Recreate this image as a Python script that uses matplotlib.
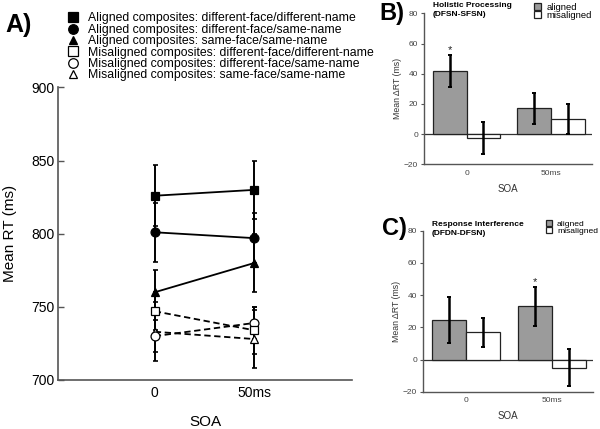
import matplotlib
matplotlib.use("Agg")
import matplotlib.pyplot as plt
from matplotlib.lines import Line2D

plt.rcParams['font.family'] = ['Liberation Sans', 'DejaVu Sans']

# ---------------- data ----------------
soa_labels = ['0', '50ms']

a_labels = ['Aligned composites: different-face/different-name',
            'Aligned composites: different-face/same-name',
            'Aligned composites: same-face/same-name',
            'Misaligned composites: different-face/different-name',
            'Misaligned composites: different-face/same-name',
            'Misaligned composites: same-face/same-name']
aligned_dfdn = [826, 830]
aligned_dfdn_err = [21, 20]
aligned_dfsn = [801, 797]
aligned_dfsn_err = [20, 17]
aligned_sfsn = [760, 780]
aligned_sfsn_err = [15, 20]
mis_dfdn = [747, 734]
mis_dfdn_err = [13, 16]
mis_dfsn = [730, 739]
mis_dfsn_err = [11, 11]
mis_sfsn = [733, 728]
mis_sfsn_err = [20, 20]

b_aligned = [42, 17]
b_aligned_err = [10.5, 10.5]
b_mis = [-2.5, 10]
b_mis_err = [10.5, 10]

c_aligned = [24.5, 33]
c_aligned_err = [14.5, 12]
c_mis = [17, -5]
c_mis_err = [9, 11.5]

b_sig = [True, False]
c_sig = [False, True]

# ---------------- figure ----------------
fig = plt.figure(figsize=(6, 4.29), dpi=100)
W, H = 600, 429

def fx(px):
    return px / W

def fy(py):
    return 1 - py / H

# ---------- panel A ----------
axA = fig.add_axes([58.3 / W, (H - 380) / H, 293.4 / W, 292.5 / H])
xs = list(range(len(soa_labels)))

dash = (0, (3.5, 2))
series = [
    (aligned_dfdn, aligned_dfdn_err, 's', 'black', '-', 6.2),
    (aligned_dfsn, aligned_dfsn_err, 'o', 'black', '-', 6.4),
    (aligned_sfsn, aligned_sfsn_err, '^', 'black', '-', 5.6),
    (mis_dfdn, mis_dfdn_err, 's', 'white', dash, 6.2),
    (mis_dfsn, mis_dfsn_err, 'o', 'white', dash, 6.4),
    (mis_sfsn, mis_sfsn_err, '^', 'white', dash, 5.6),
]
for vals, errs, mk, fc, ls, ms in series:
    axA.errorbar(xs, vals, yerr=errs, fmt='none', ecolor='black',
                 elinewidth=1.4, capsize=1.8, capthick=1.2, zorder=2)
for vals, errs, mk, fc, ls, ms in series:
    axA.plot(xs, vals, linestyle=ls, color='black', linewidth=1.3, zorder=3)
for vals, errs, mk, fc, ls, ms in reversed(series):
    axA.plot(xs, vals, linestyle='none', marker=mk, markersize=ms,
             markerfacecolor=fc, markeredgecolor='black',
             markeredgewidth=0.9, zorder=4)

axA.set_xlim(-0.97, 1.98)
axA.set_ylim(700, 900)
axA.set_yticks([700, 750, 800, 850, 900])
axA.set_xticks(xs)
axA.set_xticklabels(soa_labels)
axA.tick_params(axis='y', direction='in', length=4, width=1, color='#555555',
                labelsize=10, pad=3)
axA.tick_params(axis='x', length=0, labelsize=10, pad=4)
for s in ['top', 'right']:
    axA.spines[s].set_visible(False)
for s in ['left', 'bottom']:
    axA.spines[s].set_color('#555555')
    axA.spines[s].set_linewidth(1.2)
axA.set_ylabel('Mean RT (ms)', fontsize=11, labelpad=10)
axA.set_xlabel('SOA', fontsize=11, labelpad=11)

handles = []
for vals, errs, mk, fc, ls, ms in series:
    handles.append(Line2D([], [], linestyle='none', marker=mk,
                          markersize=ms + 0.5 if mk != '^' else ms,
                          markerfacecolor=fc, markeredgecolor='black',
                          markeredgewidth=0.9))
fig.legend(handles, a_labels, loc='upper left',
           bbox_to_anchor=(fx(66.5), fy(12.5)), frameon=False,
           fontsize=8.8, handlelength=1.0, handletextpad=0.75,
           labelspacing=-0.05, borderpad=0, borderaxespad=0)

fig.text(fx(5), fy(32), 'A)', fontsize=18, fontweight='bold', va='baseline')

# ---------- panels B and C ----------
def bar_panel(rect, aligned, aligned_err, mis, mis_err, sig, title,
              leg_anchor, leg_fs, letter, letter_xy):
    ax = fig.add_axes(rect)
    w = 0.4
    xa = [x - w / 2 for x in xs]
    xm = [x + w / 2 for x in xs]
    ba = ax.bar(xa, aligned, width=w, color='#9b9b9b', edgecolor='#222222',
                linewidth=0.9, zorder=2, label='aligned')
    bm = ax.bar(xm, mis, width=w, color='white', edgecolor='#222222',
                linewidth=0.9, zorder=2, label='misaligned')
    ax.errorbar(xa, aligned, yerr=aligned_err, fmt='none', ecolor='black',
                elinewidth=1.8, capsize=1.3, capthick=1.4, zorder=3)
    ax.errorbar(xm, mis, yerr=mis_err, fmt='none', ecolor='black',
                elinewidth=1.8, capsize=1.3, capthick=1.4, zorder=3)
    for x, v, e, s in zip(xa, aligned, aligned_err, sig):
        if s:
            ax.text(x, v + e, '*', ha='center', va='bottom', fontsize=8,
                    color='#222222')
    ax.axhline(0, color='#333333', linewidth=0.9, zorder=1)
    ax.set_xlim(-0.5, 1.48)
    ax.set_ylim(-20, 80)
    ax.set_yticks([-20, 0, 20, 40, 60, 80])
    ax.set_xticks(xs)
    ax.set_xticklabels(soa_labels)
    ax.tick_params(axis='y', direction='out', length=2.5, width=0.8,
                   color='#555555', labelsize=6, labelcolor='#444444', pad=2)
    ax.tick_params(axis='x', length=0, labelsize=6, labelcolor='#444444',
                   pad=4)
    for s in ['top', 'right']:
        ax.spines[s].set_visible(False)
    for s in ['left', 'bottom']:
        ax.spines[s].set_color('#555555')
        ax.spines[s].set_linewidth(1.0)
    ax.set_ylabel('Mean ΔRT (ms)', fontsize=6.3, color='#333333', labelpad=1)
    ax.set_xlabel('SOA', fontsize=7, color='#333333', labelpad=5)
    ax.text(0.052, title[1], title[0], transform=ax.transAxes, ha='left',
            va='top', fontsize=6, fontweight='bold', linespacing=1.25)
    ax.legend(handles=[ba, bm], loc='upper left', bbox_to_anchor=leg_anchor,
              bbox_transform=fig.transFigure, frameon=False, fontsize=leg_fs,
              handlelength=0.75, handleheight=0.75, handletextpad=0.55,
              labelspacing=-0.1, borderpad=0, borderaxespad=0)
    fig.text(letter_xy[0], letter_xy[1], letter, fontsize=17,
             fontweight='bold', va='baseline')
    return ax

bar_panel([424.3 / W, (H - 164.3) / H, 167.4 / W, 151 / H],
          b_aligned, b_aligned_err, b_mis, b_mis_err, b_sig,
          ('Holistic Processing\n(DFSN-SFSN)', 1.072),
          (fx(534), fy(2.5)), 6.8, 'B)', (fx(379), fy(20)))

bar_panel([423.3 / W, (H - 391.7) / H, 169.7 / W, 161 / H],
          c_aligned, c_aligned_err, c_mis, c_mis_err, c_sig,
          ('Response Interference\n(DFDN-DFSN)', 1.058),
          (fx(546), fy(219.5)), 6.1, 'C)', (fx(382), fy(235)))

fig.savefig('out.png', dpi=100)
